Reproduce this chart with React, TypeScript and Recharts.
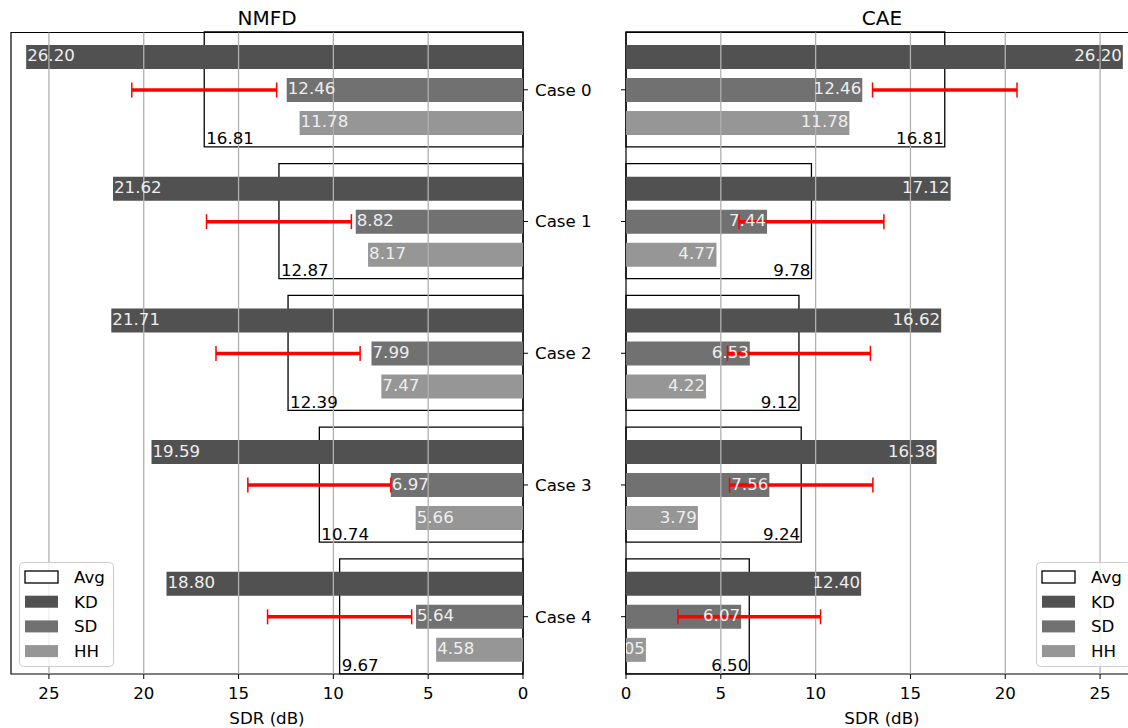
import React from 'react';
import { BarChart, Bar, XAxis, YAxis, ReferenceArea, ReferenceLine, ErrorBar, LabelList, Legend } from 'recharts';

const cases = ['Case 0', 'Case 1', 'Case 2', 'Case 3', 'Case 4'];
const seriesNames = ['Avg', 'KD', 'SD', 'HH'];
const xTicks = [0, 5, 10, 15, 20, 25];
const gridTicks = [5, 10, 15, 20, 25];

// NMFD panel
const nmfdKD = [26.2, 21.62, 21.71, 19.59, 18.8];
const nmfdSD = [12.46, 8.82, 7.99, 6.97, 5.64];
const nmfdHH = [11.78, 8.17, 7.47, 5.66, 4.58];
const nmfdAvg = [16.81, 12.87, 12.39, 10.74, 9.67];
const nmfdErr = [3.82, 3.82, 3.8, 3.77, 3.8];

// CAE panel
const caeKD = [26.2, 17.12, 16.62, 16.38, 12.4];
const caeSD = [12.46, 7.44, 6.53, 7.56, 6.07];
const caeHH = [11.78, 4.77, 4.22, 3.79, 1.05];
const caeAvg = [16.81, 9.78, 9.12, 9.24, 6.5];
const caeErr = [3.81, 3.82, 3.77, 3.78, 3.76];

const COLORS: Record<string, string> = { Avg: 'none', KD: '#515151', SD: '#717171', HH: '#969696' };
const FS = 16.67;
const Y_DOMAIN: [number, number] = [-0.435, 4.435];
const Y_TICKS = [0, 1, 2, 3, 4];

const buildRows = (kd: number[], sd: number[], hh: number[], avg: number[], err: number[]) =>
  cases.map((name, i) => ({ idx: i, name, kd: kd[i], sd: sd[i], hh: hh[i], avg: avg[i], err: err[i] }));

const nmfdRows = buildRows(nmfdKD, nmfdSD, nmfdHH, nmfdAvg, nmfdErr);
const caeRows = buildRows(caeKD, caeSD, caeHH, caeAvg, caeErr);

const box = (p: any) => {
  const vb = p.viewBox && p.viewBox.width !== undefined ? p.viewBox : p;
  const x = Number(vb.x), w = Number(vb.width), y = Number(vb.y), h = Number(vb.height);
  return { lo: Math.min(x, x + w), hi: Math.max(x, x + w), y, h };
};

const barLabel = (side: string, key: string) => (p: any) => {
  const { lo, hi, y, h } = box(p);
  const txt = Number(p.value).toFixed(2);
  const cy = y + h / 2 + 4.5;
  if (side === 'left') {
    return (
      <text x={lo + 1} y={cy} textAnchor="start" fill="#eeeeee" fontSize={FS}>
        {txt}
      </text>
    );
  }
  const id = `clip-${key}-${p.index}`;
  return (
    <g>
      <defs>
        <clipPath id={id}>
          <rect x={lo} y={y - 4} width={700} height={h + 8} />
        </clipPath>
      </defs>
      <text x={hi - 1} y={cy} textAnchor="end" fill="#eeeeee" fontSize={FS} clipPath={`url(#${id})`}>
        {txt}
      </text>
    </g>
  );
};

const avgLabel = (side: string) => (p: any) => {
  const { lo, hi, y, h } = box(p);
  const txt = Number(p.value).toFixed(2);
  return (
    <text x={side === 'left' ? lo + 2 : hi - 1} y={y + h - 2.5} textAnchor={side === 'left' ? 'start' : 'end'} fill="#000" fontSize={FS}>
      {txt}
    </text>
  );
};

const LegendBox = () => (
  <svg width={96} height={106}>
    <rect x={0.5} y={0.5} width={94} height={104} rx={4} fill="#ffffff" fillOpacity={0.8} stroke="#cccccc" />
    {seriesNames.map((s, i) => {
      const cy = 15 + i * 24.7;
      return (
        <g key={s}>
          <rect x={6} y={cy - 6} width={33} height={12} fill={s === 'Avg' ? '#ffffff' : COLORS[s]} stroke={s === 'Avg' ? '#000' : 'none'} strokeWidth={1.3} />
          <text x={55} y={cy + 6} fontSize={FS} fill="#000">{s}</text>
        </g>
      );
    })}
  </svg>
);

const Panel = ({ title, rows, side }: { title: string; rows: any[]; side: string }) => {
  const left = side === 'left';
  return (
    <BarChart
      width={600}
      height={728}
      data={rows}
      layout="vertical"
      barGap={9}
      margin={left ? { top: 32.5, right: 0, bottom: 0, left: 11 } : { top: 32.5, right: 62, bottom: 0, left: 0 }}
    >
      <XAxis
        type="number"
        domain={[0, 27]}
        ticks={xTicks}
        interval={0}
        reversed={left}
        height={54}
        tickSize={5}
        tickMargin={8}
        axisLine={false}
        tickLine={{ stroke: '#000' }}
        tick={{ fill: '#000', fontSize: FS }}
        label={{ value: 'SDR (dB)', position: 'insideBottom', offset: 4, fill: '#000', fontSize: FS }}
      />
      <YAxis
        type="number"
        dataKey="idx"
        domain={Y_DOMAIN}
        ticks={Y_TICKS}
        interval={0}
        orientation={left ? 'right' : 'left'}
        width={left ? 77 : 26}
        tickSize={5}
        tickMargin={7}
        axisLine={false}
        tickLine={{ stroke: '#000' }}
        tick={left ? { fill: '#000', fontSize: FS } : () => <g />}
        tickFormatter={(v: number) => cases[v]}
      />
      <YAxis yAxisId="avg" type="number" dataKey="idx" domain={Y_DOMAIN} ticks={Y_TICKS} hide />
      <YAxis yAxisId="err" type="number" dataKey="idx" domain={Y_DOMAIN} ticks={Y_TICKS} hide />

      <Bar yAxisId="avg" dataKey="avg" barSize={115} fill="none" stroke="#000" strokeWidth={1.3} isAnimationActive={false}>
        <LabelList dataKey="avg" content={avgLabel(side)} />
      </Bar>
      <Bar dataKey="kd" barSize={24} fill={COLORS.KD} isAnimationActive={false}>
        <LabelList dataKey="kd" content={barLabel(side, side + 'kd')} />
      </Bar>
      <Bar dataKey="sd" barSize={24} fill={COLORS.SD} isAnimationActive={false}>
        <LabelList dataKey="sd" content={barLabel(side, side + 'sd')} />
      </Bar>
      <Bar dataKey="hh" barSize={24} fill={COLORS.HH} isAnimationActive={false}>
        <LabelList dataKey="hh" content={barLabel(side, side + 'hh')} />
      </Bar>

      {gridTicks.map((t) => (
        <ReferenceLine key={t} x={t} stroke="#b0b0b0" strokeWidth={1.3} />
      ))}

      <Bar yAxisId="err" dataKey="avg" barSize={20} fill="none" isAnimationActive={false}>
        <ErrorBar dataKey="err" direction="x" width={7.5} stroke="#ff0000" strokeWidth={1.5} isAnimationActive={false} />
        <ErrorBar dataKey="err" direction="x" width={0} stroke="#ff0000" strokeWidth={3.5} isAnimationActive={false} />
      </Bar>

      <ReferenceArea
        x1={0}
        x2={27}
        y1={Y_DOMAIN[0]}
        y2={Y_DOMAIN[1]}
        fill="none"
        stroke="#000"
        strokeWidth={1.2}
        ifOverflow="visible"
        label={{ value: title, position: 'top', offset: 8, fontSize: 20, fill: '#000' }}
      />
      <Legend
        layout="vertical"
        align="center"
        verticalAlign="middle"
        wrapperStyle={{ left: left ? 19 : 436, top: 562, width: 96, height: 106 }}
        content={() => <LegendBox />}
      />
    </BarChart>
  );
};

export default function App() {
  return (
    <div
      style={{
        position: 'absolute',
        left: 0,
        top: 0,
        width: 1128,
        height: 728,
        overflow: 'hidden',
        background: '#fff',
        fontFamily: '"DejaVu Sans", sans-serif',
      }}
    >
      <div style={{ position: 'absolute', left: 0, top: 0 }}>
        <Panel title="NMFD" rows={nmfdRows} side="left" />
      </div>
      <div style={{ position: 'absolute', left: 600, top: 0 }}>
        <Panel title="CAE" rows={caeRows} side="right" />
      </div>
    </div>
  );
}
